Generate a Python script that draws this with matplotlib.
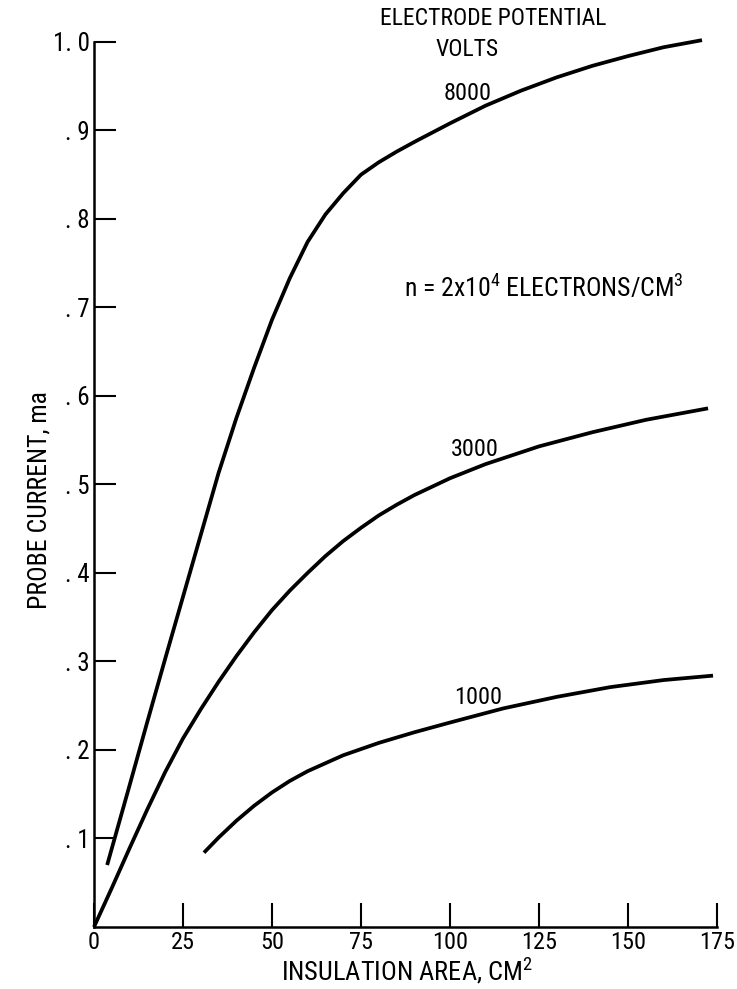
import matplotlib
matplotlib.use("Agg")
import matplotlib.pyplot as plt

# Condensed sans, close to the typeset look of the original
plt.rcParams['font.family'] = ['Roboto Condensed', 'DejaVu Sans']
plt.rcParams['mathtext.default'] = 'regular'

# Data (insulation area cm^2 vs probe current ma)
x8000 = [3.7, 10, 15, 20, 25, 30, 35, 40, 45, 50, 55, 60, 65, 70, 75, 80, 85,
         90, 100, 110, 120, 130, 140, 150, 160, 170.8]
y8000 = [0.070, 0.160, 0.232, 0.303, 0.373, 0.443, 0.513, 0.575, 0.632, 0.686,
         0.733, 0.774, 0.805, 0.829, 0.850, 0.864, 0.876, 0.887, 0.908, 0.928,
         0.945, 0.960, 0.973, 0.984, 0.994, 1.002]

x3000 = [0, 5, 10, 15, 20, 25, 30, 35, 40, 45, 50, 55, 60, 65, 70, 75, 80, 85,
         90, 100, 110, 125, 140, 155, 172.5]
y3000 = [0, 0.044, 0.089, 0.133, 0.175, 0.213, 0.246, 0.277, 0.306, 0.333,
         0.358, 0.380, 0.400, 0.419, 0.436, 0.451, 0.465, 0.477, 0.488, 0.507,
         0.523, 0.543, 0.559, 0.573, 0.586]

x1000 = [30.9, 35, 40, 45, 50, 55, 60, 70, 80, 90, 100, 115, 130, 145, 160, 173.9]
y1000 = [0.084, 0.101, 0.120, 0.137, 0.152, 0.165, 0.176, 0.194, 0.208, 0.220,
         0.231, 0.247, 0.260, 0.271, 0.279, 0.284]

xticks = [0, 25, 50, 75, 100, 125, 150, 175]
xticklabels = ["0", "25", "50", "75", "100", "125", "150", "175"]
yticks = [0.1, 0.2, 0.3, 0.4, 0.5, 0.6, 0.7, 0.8, 0.9, 1.0]
yticklabels = [". 1", ". 2", ". 3", ". 4", ". 5", ". 6", ". 7", ". 8", ". 9", "1. 0"]

# Curve labels: (text, x, y)
curve_labels = [("8000", 105, 0.942), ("3000", 107, 0.539), ("1000", 107.8, 0.259)]

fig = plt.figure(figsize=(7.37, 9.89), dpi=100)
ax = fig.add_axes([0.1275, 0.0627, 0.8453, 0.8949])

for xs, ys in [(x8000, y8000), (x3000, y3000), (x1000, y1000)]:
    ax.plot(xs, ys, color="k", lw=2.7, solid_capstyle="butt",
            solid_joinstyle="round", clip_on=False)

ax.set_xlim(0, 175)
ax.set_ylim(0, 1.0)

ax.spines["top"].set_visible(False)
ax.spines["right"].set_visible(False)
for s in ("left", "bottom"):
    ax.spines[s].set_linewidth(1.8)

ax.set_xticks(xticks)
ax.set_xticklabels(xticklabels)
ax.set_yticks(yticks)
ax.set_yticklabels(yticklabels)
ax.tick_params(axis="x", direction="in", length=17, width=1.5, labelsize=17.5, pad=3)
ax.tick_params(axis="y", direction="in", length=16, width=1.5, labelsize=18, pad=3)

ax.set_xlabel("INSULATION AREA, CM$^{2}$", fontsize=19)
ax.xaxis.set_label_coords(0.502, -0.050)
ax.xaxis.label.set_verticalalignment("center")
ax.set_ylabel("PROBE CURRENT, ma", fontsize=18.5)
ax.yaxis.set_label_coords(-0.087, 0.482)
ax.yaxis.label.set_verticalalignment("center")

for txt, xx, yy in curve_labels:
    ax.text(xx, yy, txt, fontsize=17.5, ha="center", va="center")

ax.text(112.1, 1.027, "ELECTRODE POTENTIAL", fontsize=17, ha="center", va="center",
        clip_on=False)
ax.text(104.8, 0.991, "VOLTS", fontsize=17, ha="center", va="center", clip_on=False)
ax.text(87.1, 0.722, "n = 2x10$^{4}$ ELECTRONS/CM$^{3}$", fontsize=18.5,
        ha="left", va="center")

fig.savefig("out.png", dpi=100, facecolor="white")
